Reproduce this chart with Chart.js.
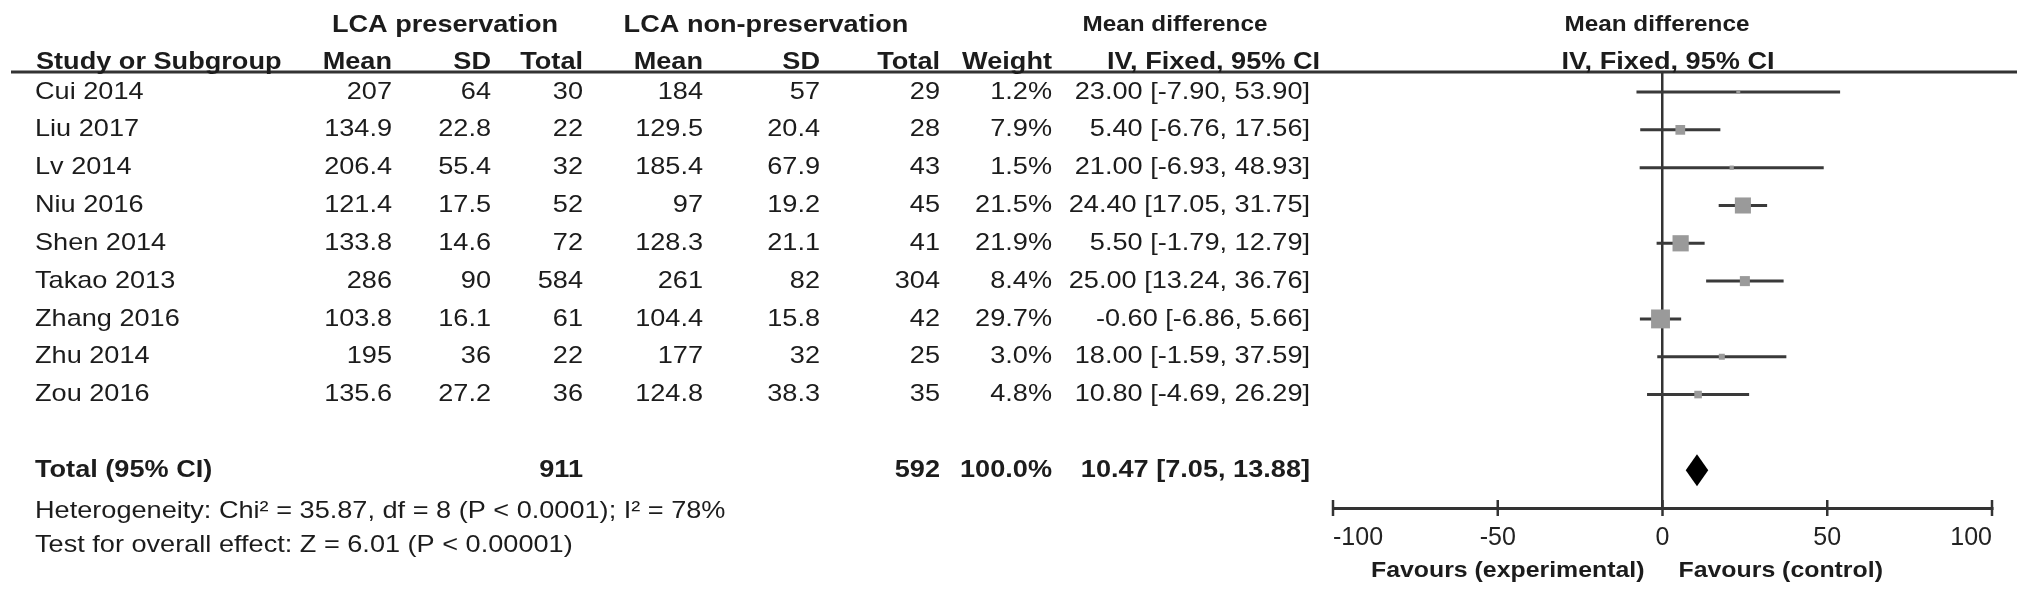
<!DOCTYPE html>
<html><head><meta charset="utf-8">
<script src="https://cdn.jsdelivr.net/npm/chart.js@4/dist/chart.umd.min.js"></script>
<style>html,body{margin:0;padding:0;background:#fff;overflow:hidden}canvas{display:block}</style>
</head><body>
<canvas id="c" width="2031" height="601"></canvas>
<script>
// ---- data ----
const studies = ['Cui 2014','Liu 2017','Lv 2014','Niu 2016','Shen 2014','Takao 2013','Zhang 2016','Zhu 2014','Zou 2016'];
const mean1 = [207, 134.9, 206.4, 121.4, 133.8, 286, 103.8, 195, 135.6];
const sd1 = [64, 22.8, 55.4, 17.5, 14.6, 90, 16.1, 36, 27.2];
const n1 = [30, 22, 32, 52, 72, 584, 61, 22, 36];
const mean2 = [184, 129.5, 185.4, 97, 128.3, 261, 104.4, 177, 124.8];
const sd2 = [57, 20.4, 67.9, 19.2, 21.1, 82, 15.8, 32, 38.3];
const n2 = [29, 28, 43, 45, 41, 304, 42, 25, 35];
const weight = [1.2, 7.9, 1.5, 21.5, 21.9, 8.4, 29.7, 3.0, 4.8];
const md = [23.00, 5.40, 21.00, 24.40, 5.50, 25.00, -0.60, 18.00, 10.80];
const ciLow = [-7.90, -6.76, -6.93, 17.05, -1.79, 13.24, -6.86, -1.59, -4.69];
const ciHigh = [53.90, 17.56, 48.93, 31.75, 12.79, 36.76, 5.66, 37.59, 26.29];
const totalN1 = 911, totalN2 = 592, totalWeight = 100.0;
const pooledMd = 10.47, pooledLow = 7.05, pooledHigh = 13.88;
const xTicks = [-100, -50, 0, 50, 100];
const heterogeneityText = 'Heterogeneity: Chi\u00B2 = 35.87, df = 8 (P < 0.0001); I\u00B2 = 78%';
const overallText = 'Test for overall effect: Z = 6.01 (P < 0.00001)';
const favLeft = 'Favours (experimental)', favRight = 'Favours (control)';

const TOTAL_ROW = studies.length + 1;
const FONT = '"Liberation Sans", Arial, sans-serif';
const SX = 1.13;
const TXT = '#1c1c1c';

function txt(ctx, s, x, y, align, bold, size) {
  ctx.save();
  ctx.translate(x, y);
  ctx.scale(SX, 1);
  ctx.font = (bold ? 'bold ' : '') + size + 'px ' + FONT;
  ctx.fillStyle = TXT;
  ctx.textAlign = align;
  ctx.textBaseline = 'middle';
  ctx.fillText(s, 0, 0);
  ctx.restore();
}
const f1 = v => v.toFixed(1), f2 = v => v.toFixed(2);

const tablePlugin = {
  id: 'table',
  afterDraw(chart) {
    const ctx = chart.ctx, xs = chart.scales.x, ys = chart.scales.y;
    const ca = chart.chartArea;
    ctx.save();
    ctx.strokeStyle = '#333'; ctx.lineWidth = 3;
    ctx.beginPath(); ctx.moveTo(11, 72); ctx.lineTo(2017, 72); ctx.stroke();
    ctx.lineWidth = 2.5;
    xs.ticks.forEach(t => {
      const px = xs.getPixelForValue(t.value);
      ctx.beginPath(); ctx.moveTo(px, ca.bottom - 8); ctx.lineTo(px, ca.bottom + 8); ctx.stroke();
    });
    const yc = ys.getPixelForValue(TOTAL_ROW);
    ctx.fillStyle = '#000';
    ctx.beginPath();
    ctx.moveTo(xs.getPixelForValue(pooledLow), yc);
    ctx.lineTo(xs.getPixelForValue(pooledMd), yc - 16);
    ctx.lineTo(xs.getPixelForValue(pooledHigh), yc);
    ctx.lineTo(xs.getPixelForValue(pooledMd), yc + 16);
    ctx.closePath(); ctx.fill();
    ctx.restore();

    const S = 24;
    txt(ctx, 'LCA preservation', 445, 25, 'center', true, S);
    txt(ctx, 'LCA non-preservation', 766, 25, 'center', true, S);
    txt(ctx, 'Mean difference', 1175, 25, 'center', true, 21.5);
    txt(ctx, 'Mean difference', 1657, 25, 'center', true, 21.5);
    const hy = 62;
    txt(ctx, 'Study or Subgroup', 36, hy, 'left', true, S);
    txt(ctx, 'Mean', 392, hy, 'right', true, S);
    txt(ctx, 'SD', 491, hy, 'right', true, S);
    txt(ctx, 'Total', 583, hy, 'right', true, S);
    txt(ctx, 'Mean', 703, hy, 'right', true, S);
    txt(ctx, 'SD', 820, hy, 'right', true, S);
    txt(ctx, 'Total', 940, hy, 'right', true, S);
    txt(ctx, 'Weight', 1052, hy, 'right', true, S);
    txt(ctx, 'IV, Fixed, 95% CI', 1320, hy, 'right', true, S);
    txt(ctx, 'IV, Fixed, 95% CI', 1668, hy, 'center', true, S);
    studies.forEach((s, i) => {
      const y = ys.getPixelForValue(i);
      txt(ctx, s, 35, y, 'left', false, S);
      txt(ctx, String(mean1[i]), 392, y, 'right', false, S);
      txt(ctx, String(sd1[i]), 491, y, 'right', false, S);
      txt(ctx, String(n1[i]), 583, y, 'right', false, S);
      txt(ctx, String(mean2[i]), 703, y, 'right', false, S);
      txt(ctx, String(sd2[i]), 820, y, 'right', false, S);
      txt(ctx, String(n2[i]), 940, y, 'right', false, S);
      txt(ctx, f1(weight[i]) + '%', 1052, y, 'right', false, S);
      txt(ctx, f2(md[i]) + ' [' + f2(ciLow[i]) + ', ' + f2(ciHigh[i]) + ']', 1310, y, 'right', false, S);
    });
    const ty = ys.getPixelForValue(TOTAL_ROW);
    txt(ctx, 'Total (95% CI)', 35, ty, 'left', true, S);
    txt(ctx, String(totalN1), 583, ty, 'right', true, S);
    txt(ctx, String(totalN2), 940, ty, 'right', true, S);
    txt(ctx, f1(totalWeight) + '%', 1052, ty, 'right', true, S);
    txt(ctx, f2(pooledMd) + ' [' + f2(pooledLow) + ', ' + f2(pooledHigh) + ']', 1310, ty, 'right', true, S);
    txt(ctx, heterogeneityText, 35, 511, 'left', false, S);
    txt(ctx, overallText, 35, 545, 'left', false, S);
    const zx = xs.getPixelForValue(0);
    txt(ctx, favLeft, zx - 18, 571, 'right', true, 22);
    txt(ctx, favRight, zx + 16, 571, 'left', true, 22);
  }
};

const datasets = [];
studies.forEach((s, i) => {
  datasets.push({
    type: 'line', label: s,
    data: [{x: ciLow[i], y: i}, {x: ciHigh[i], y: i}],
    borderColor: '#3a3a3a', borderWidth: 3, pointRadius: 0, borderCapStyle: 'butt', order: 2
  });
});
datasets.push({
  type: 'scatter', label: 'Mean difference',
  data: md.map((v, i) => ({x: v, y: i})),
  pointStyle: 'rect',
  pointRadius: weight.map(w => Math.max(2.8, Math.sqrt(w) * 2.45)),
  backgroundColor: '#9a9a9a', borderWidth: 0, order: 1
});

new Chart(document.getElementById('c'), {
  type: 'scatter',
  data: { datasets },
  plugins: [tablePlugin],
  options: {
    responsive: false, animation: false, devicePixelRatio: 1,
    layout: { padding: { left: 1333, right: 39, top: 72, bottom: 0 } },
    plugins: { legend: { display: false }, tooltip: { enabled: false } },
    scales: {
      x: {
        type: 'linear', min: -100, max: 100, position: 'bottom',
        afterBuildTicks: s => { s.ticks = xTicks.map(v => ({ value: v })); },
        afterFit: s => { s.height = 93; },
        grid: {
          drawTicks: false, drawOnChartArea: true,
          color: c => (c.tick && c.tick.value === 0) ? '#333' : 'rgba(0,0,0,0)',
          lineWidth: 2.5
        },
        border: { display: true, color: '#333', width: 3 },
        ticks: { padding: 15, align: 'inner', color: '#222', font: { family: FONT, size: 25 }, maxRotation: 0, autoSkip: false }
      },
      y: { type: 'linear', min: -0.53, max: 11.0, reverse: true, display: false }
    }
  }
});
</script>
</body></html>
